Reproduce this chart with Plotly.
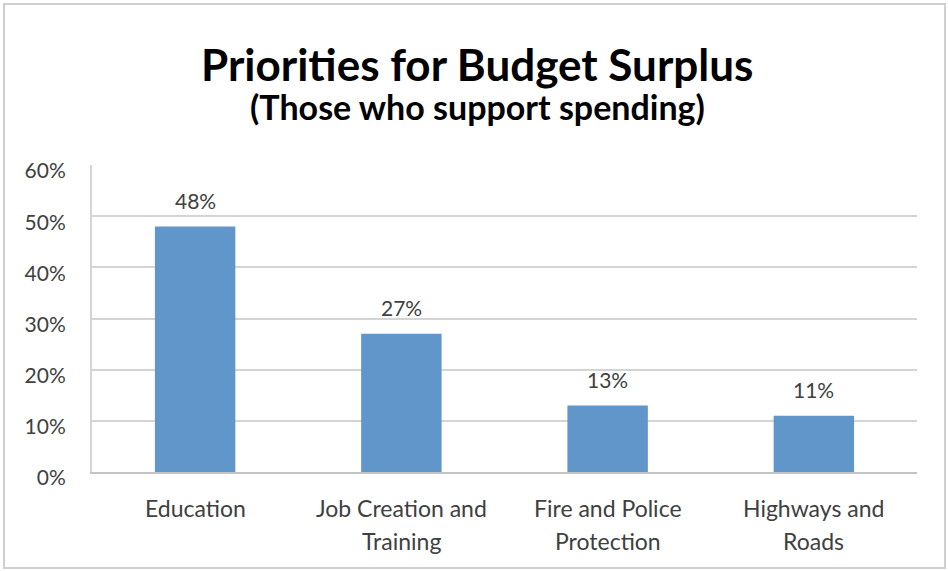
import plotly.graph_objects as go

# Survey results: share of respondents backing each spending priority
categories = ["Education", "Job Creation and<br>Training", "Fire and Police<br>Protection", "Highways and<br>Roads"]
support_pct = [48, 27, 13, 11]
y_ticks = [0, 10, 20, 30, 40, 50, 60]
y_tick_text = [f"{v}%" for v in y_ticks]

W, H = 948, 571
M_L, M_R, M_T, M_B = 92, 31, 165, 99
plot_w = W - M_L - M_R
plot_h = H - M_T - M_B

BAR_COLOR = "#6096C9"
GRID = "#D4D4D4"
TEXT = "#404040"
FONT = "Lato"


def px_x(px):
    return (px - M_L) / plot_w


def px_y(py):
    return (H - M_B - py) / plot_h


fig = go.Figure(
    go.Bar(
        x=list(range(len(categories))),
        y=support_pct,
        marker=dict(color=BAR_COLOR, line=dict(width=0)),
        width=0.39,
        hoverinfo="skip",
    )
)

annotations = []
# value labels above the bars
for i, v in enumerate(support_pct):
    annotations.append(dict(
        x=i, y=v, xref="x", yref="y", text=f"{v}%", showarrow=False,
        yanchor="middle", yshift=26, font=dict(family=FONT, size=21, color=TEXT),
    ))
# category labels, one annotation per line for Excel-like line spacing
for i, name in enumerate(categories):
    for j, line in enumerate(name.split("<br>")):
        annotations.append(dict(
            x=i, y=0, xref="x", yref="paper", text=line, showarrow=False,
            yanchor="middle", yshift=-36 - 33 * j,
            font=dict(family=FONT, size=23, color=TEXT),
        ))
# title and subtitle
annotations.append(dict(
    x=0.5, y=px_y(64), xref="paper", yref="paper", xanchor="center", yanchor="middle",
    text="<b>Priorities for Budget Surplus</b>", showarrow=False,
    font=dict(family=FONT, size=44, color="#000000"), xshift=(477 - (M_L + plot_w / 2)),
))
annotations.append(dict(
    x=0.5, y=px_y(107), xref="paper", yref="paper", xanchor="center", yanchor="middle",
    text="<b>(Those who support spending)</b>", showarrow=False,
    font=dict(family=FONT, size=34, color="#000000"), xshift=(477 - (M_L + plot_w / 2)),
))

fig.update_layout(
    width=W, height=H,
    margin=dict(l=M_L, r=M_R, t=M_T, b=M_B),
    paper_bgcolor="white", plot_bgcolor="white",
    showlegend=False,
    bargap=0.61,
    xaxis=dict(
        range=[-0.5, len(categories) - 0.5], showticklabels=False, ticks="",
        showgrid=False, zeroline=False, showline=True, linecolor="#C4C4C4", linewidth=2,
        fixedrange=True,
    ),
    yaxis=dict(
        range=[0, 60], tickvals=y_ticks, ticktext=y_tick_text,
        showgrid=True, gridcolor=GRID, gridwidth=2, zeroline=False,
        showline=True, linecolor=GRID, linewidth=2,
        ticks="", ticklabelstandoff=20, ticklabelshift=6,
        tickfont=dict(family=FONT, size=21, color=TEXT), fixedrange=True,
    ),
    annotations=annotations,
    shapes=[dict(
        type="rect", xref="paper", yref="paper",
        x0=px_x(4), x1=px_x(945), y0=px_y(568), y1=px_y(4),
        line=dict(color="#CFCFCF", width=2), fillcolor="rgba(0,0,0,0)", layer="below",
    )],
)

fig.write_html("out.html")
